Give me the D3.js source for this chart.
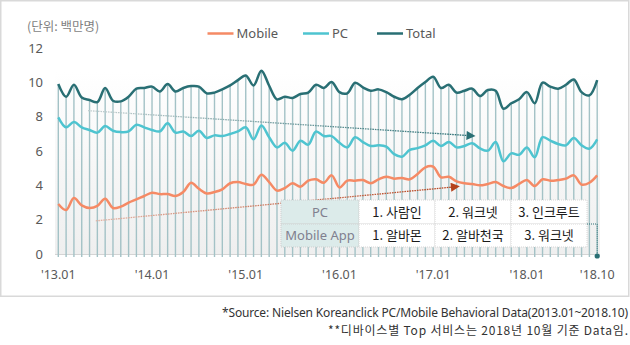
<!DOCTYPE html>
<html><head><meta charset="utf-8">
<script src="https://cdn.jsdelivr.net/npm/d3@7/dist/d3.min.js"></script>
<style>
body{margin:0;background:#fff;}
svg{display:block;font-family:"Noto Sans","Noto Sans CJK KR",sans-serif;}
</style></head>
<body>
<svg id="c" width="630" height="345"></svg>
<script>
const months = d3.range(70); // 2013.01 .. 2018.10
const tickMonths = [0, 12, 24, 36, 48, 60, 69];
const tickLabels = ["'13.01", "'14.01", "'15.01", "'16.01", "'17.01", "'18.01", "'18.10"];
const yTicks = [0, 2, 4, 6, 8, 10, 12];
const seriesNames = ["Mobile", "PC", "Total"];
const total = [9.9,9.16,9.86,9.12,8.97,8.85,9.67,8.93,8.89,9.16,9.63,9.67,9.75,9.47,
  9.9,9.47,9.67,9.78,9.75,9.36,9.4,9.59,9.82,10.13,10.4,9.82,10.68,9.8,
  9.01,9.16,9.09,9.32,9.4,9.86,9.67,10.02,9.43,9.36,9.98,9.71,9.51,9.59,
  9.43,9.16,9.01,9.28,9.67,10.02,10.33,9.67,9.86,9.4,9.51,9.63,9.2,9.55,
  9.51,8.46,8.78,9.01,9.43,8.78,9.98,9.75,9.63,9.86,10.17,9.43,9.24,10.13];
const pc = [7.96,7.38,7.69,7.38,7.22,7.07,7.45,7.18,7.1,7.14,7.53,7.38,7.22,7.14,
  7.61,7.07,7.14,6.87,7.18,6.76,6.91,6.87,6.99,7.14,7.38,6.68,7.49,6.8,
  6.21,6.48,6.02,6.6,6.37,7.14,6.87,6.87,6.48,6.21,6.8,6.52,6.29,6.33,
  6.25,5.82,5.67,6.06,6.17,6.33,6.6,6.29,6.52,6.21,6.29,6.45,6.15,6.02,
  6.52,5.4,5.86,5.78,6.21,5.63,6.8,6.6,6.41,6.33,6.76,6.33,6.13,6.68];
const mobile = [2.91,2.56,3.26,2.83,2.68,2.8,3.22,2.68,2.76,2.99,3.18,3.38,3.57,3.49,
  3.49,3.38,3.61,4.15,3.8,3.53,3.61,3.77,4.12,4.19,4.08,4.04,4.62,4.19,
  3.69,3.84,4.12,3.92,4.27,4.35,4.15,4.58,3.88,4.27,4.27,4.31,4.12,4.35,
  4.5,4.39,4.43,4.35,4.66,5.05,5.09,4.47,4.5,4.23,4.12,4.08,4.0,4.08,
  4.19,3.96,3.84,4.08,4.31,3.96,4.35,4.27,4.31,4.39,4.58,4.04,4.15,4.58];
const tableRows = ["PC", "Mobile App"];
const tableCells = [["1. 사람인", "2. 워크넷", "3. 인크루트"], ["1. 알바몬", "2. 알바천국", "3. 워크넷"]];
// trend arrows: [monthIndex, value] endpoints
const pcTrend = [[3.8, 8.35], [52.5, 6.9]];
const mobileTrend = [[4.8, 1.93], [50.5, 3.9]];

const colors = {Mobile:"#f58a65", PC:"#4ec4d0", Total:"#296f74"};
const svg = d3.select("#c");
const x = d3.scaleLinear().domain([0, 69]).range([58.3, 597.2]);
const y = d3.scaleLinear().domain([0, 12]).range([254, 48]);

const defs = svg.append("defs");
const bg = defs.append("linearGradient").attr("id","bg").attr("x1",0).attr("y1",0).attr("x2",0).attr("y2",1);
bg.append("stop").attr("offset","0").attr("stop-color","#ffffff");
bg.append("stop").attr("offset","1").attr("stop-color","#efefef");

// outer frame
svg.append("rect").attr("x",0.75).attr("y",0.75).attr("width",628).attr("height",295.5)
  .attr("fill","#fff").attr("stroke","#d9d9d9").attr("stroke-width",1.5);

// plot background
svg.append("rect").attr("x",55).attr("y",72).attr("width",545).attr("height",y(0)-72).attr("fill","url(#bg)");

// baseline
svg.append("line").attr("x1",55).attr("x2",600).attr("y1",y(0)+0.5).attr("y2",y(0)+0.5)
  .attr("stroke","#d4d4d4").attr("stroke-width",1);

// drop lines
svg.append("g").selectAll("line").data(months).join("line")
  .attr("x1",d=>x(d)).attr("x2",d=>x(d)).attr("y1",y(0)+3).attr("y2",d=>y(total[d]))
  .attr("stroke","#a3c2c6").attr("stroke-width",1.4);

// y ticks
svg.append("g").selectAll("text").data(yTicks).join("text")
  .attr("x",43).attr("y",d=>y(d)+4.5).attr("text-anchor","end")
  .attr("font-size",13).attr("fill","#595959").text(d=>d);

// x ticks
svg.append("g").selectAll("text").data(tickMonths).join("text")
  .attr("x",d=>x(d)).attr("y",279).attr("text-anchor","middle")
  .attr("font-size",12.5).attr("fill","#595959").text((d,i)=>tickLabels[i]);

// unit label
svg.append("text").attr("x",27).attr("y",31).attr("font-size",12.5).attr("fill","#7f7f7f")
  .attr("font-family","'Noto Sans CJK KR',sans-serif").text("(단위: 백만명)");

// legend
const legX = {Mobile:207.5, PC:303, Total:377};
seriesNames.forEach(n=>{
  svg.append("line").attr("x1",legX[n]).attr("x2",legX[n]+26).attr("y1",33.5).attr("y2",33.5)
    .attr("stroke",colors[n]).attr("stroke-width",2.5);
  svg.append("text").attr("x",legX[n]+29).attr("y",38).attr("font-size",13).attr("fill","#595959").text(n);
});

// trend arrows
function trend(id, pts, c0, c1, head){
  const g = defs.append("linearGradient").attr("id",id).attr("gradientUnits","userSpaceOnUse")
    .attr("x1",x(pts[0][0])).attr("y1",y(pts[0][1])).attr("x2",x(pts[1][0])).attr("y2",y(pts[1][1]));
  g.append("stop").attr("offset","0").attr("stop-color",c0);
  g.append("stop").attr("offset","1").attr("stop-color",c1);
  defs.append("marker").attr("id",id+"m").attr("viewBox","0 0 10 10").attr("refX",2).attr("refY",5)
    .attr("markerWidth",10).attr("markerHeight",9).attr("markerUnits","userSpaceOnUse").attr("orient","auto")
    .append("path").attr("d","M0,0L10,5L0,10Z").attr("fill",head);
  svg.append("line").attr("x1",x(pts[0][0])).attr("y1",y(pts[0][1])).attr("x2",x(pts[1][0])).attr("y2",y(pts[1][1]))
    .attr("stroke","url(#"+id+")").attr("stroke-width",1.3).attr("stroke-dasharray","1.6,0.9")
    .attr("marker-end","url(#"+id+"m)");
}
trend("pcArrow", pcTrend, "#c3cfd0", "#2a6f74", "#2a6f74");
trend("mobArrow", mobileTrend, "#e3b3a4", "#b5421c", "#b5421c");

// series lines
const line = d3.line().x((d,i)=>x(i)).y(d=>y(d)).curve(d3.curveCatmullRom.alpha(0.5));
[["Mobile",mobile],["PC",pc],["Total",total]].forEach(([n,arr])=>{
  svg.append("path").datum(arr).attr("d",line).attr("fill","none")
    .attr("stroke",colors[n]).attr("stroke-width",2.5).attr("stroke-linejoin","round");
});

// table
const tx = [281, 359, 435, 511, 587], ty = [200, 224, 247];
const tg = svg.append("g");
tableRows.forEach((r,ri)=>{
  tg.append("rect").attr("x",tx[0]).attr("y",ty[ri]).attr("width",tx[1]-tx[0]).attr("height",ty[ri+1]-ty[ri])
    .attr("fill","#dcebea").attr("stroke","#cfcfcf").attr("stroke-dasharray","1,1");
  tg.append("text").attr("x",(tx[0]+tx[1])/2).attr("y",(ty[ri]+ty[ri+1])/2+4.5).attr("text-anchor","middle")
    .attr("font-size",13).attr("fill","#80808f").text(r);
  tableCells[ri].forEach((c,ci)=>{
    tg.append("rect").attr("x",tx[ci+1]).attr("y",ty[ri]).attr("width",tx[ci+2]-tx[ci+1]).attr("height",ty[ri+1]-ty[ri])
      .attr("fill","#ffffff").attr("stroke","#d6d6d6").attr("stroke-dasharray","1,1");
    tg.append("text").attr("x",(tx[ci+1]+tx[ci+2])/2).attr("y",(ty[ri]+ty[ri+1])/2+4.5).attr("text-anchor","middle")
      .attr("font-size",13).attr("fill","#1a1a1a").attr("font-family","'Noto Sans CJK KR',sans-serif").text(c);
  });
});
// connector to last month
svg.append("path").attr("d",`M${tx[4]},${ty[1]}H${x(69)}V${y(0)+2}`).attr("fill","none")
  .attr("stroke","#2a6f74").attr("stroke-width",1).attr("stroke-dasharray","1,1");
svg.append("circle").attr("cx",x(69)).attr("cy",y(0)+2).attr("r",2.6).attr("fill","#2a6f74");

// footnotes
svg.append("text").attr("x",628).attr("y",317).attr("text-anchor","end").attr("font-size",12)
  .attr("fill","#333").attr("textLength",406).attr("lengthAdjust","spacing")
  .text("*Source: Nielsen Koreanclick PC/Mobile Behavioral Data(2013.01~2018.10)");
svg.append("text").attr("x",628).attr("y",335).attr("text-anchor","end").attr("font-size",12)
  .attr("fill","#333").attr("textLength",300).attr("lengthAdjust","spacing")
  .attr("font-family","'Noto Sans CJK KR',sans-serif")
  .text("**디바이스별 Top 서비스는 2018년 10월 기준 Data임.");
</script>
</body></html>
